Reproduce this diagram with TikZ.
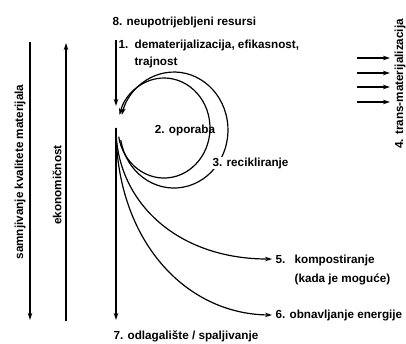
\documentclass[tikz,border=0pt]{standalone}
\usepackage{fontspec}
\setmainfont{Liberation Sans}
\usetikzlibrary{positioning, arrows.meta}

\begin{document}
\begin{tikzpicture}[x=1pt, y=1pt, line width=1.2pt,
    font=\fontsize{11.7}{14}\selectfont\bfseries,
    lbl/.style={inner sep=1pt, anchor=base west},
    side/.style={inner sep=1pt, rotate=90},
    arr/.style={-{Stealth[length=7pt, width=4.5pt]}}]
  \useasboundingbox (0,0) rectangle (406,343);

  % left axes
  \node[side] (qual) at (20,171) {samnjivanje kvalitete materijala};
  \node[side] (econ) at (57,158) {ekonomičnost};
  \coordinate (qualTop) at (30,301);
  \coordinate (qualBot) at (30,23);
  \coordinate (econBot) at (66,22);
  \coordinate (econTop) at (66,300);
  \draw[arr] (qualTop) -- (qualBot);
  \draw[arr] (econBot) -- (econTop);

  % labels
  \node[lbl] (res) at (111,317) {8. neupotrijebljeni resursi};
  \node[lbl] (n1) at (117,294.5) {1.};
  \node[lbl] (dem) at (133,294.5) {dematerijalizacija, efikasnost,};
  \node[lbl, below=17pt of dem.base west, anchor=base west] (traj) {trajnost};
  \node[anchor=base, inner sep=1pt] (opor) at (185,209) {2. oporaba};
  \node[side] (trans) at (400,259) {4. trans-materijalizacija};
  \node[lbl, inner sep=3pt] (n5) at (272,80) {5.};
  \node[lbl] (komp) at (293,80) {kompostiranje};
  \node[lbl, below=19pt of komp.base west, anchor=base west] (kada) {(kada je moguće)};
  \node[lbl, inner sep=3pt] (n6) at (272,25) {6. obnavljanje energije};
  \node[lbl] (n7) at (112,4) {7. odlagalište / spaljivanje};

  % main flow
  \coordinate (vTop) at (116,303);
  \coordinate (vStop) at (116,237);
  \coordinate (hub) at (116,215);
  \coordinate (vBot) at (116,23);
  \draw[arr] (vTop) -- (vStop);
  \draw[arr] (hub) -- (vBot);

  % loops
  \coordinate (inStart) at (118.7,206.3);
  \coordinate (outStart) at (120.8,202.9);
  \draw[arr] (inStart) arc[start angle=190, end angle=525, x radius=46, y radius=50];
  \draw[arr] (outStart) arc[start angle=190, end angle=525, x radius=54, y radius=58];
  \node[lbl, fill=white] (rec) at (211,177) {3. recikliranje};

  % branches
  \draw[arr] (hub) .. controls (116,143) and (175,84) .. (n5.west);
  \draw[arr] (hub) .. controls (116,103) and (185,29) .. (n6.west);

  % trans arrows
  \foreach \k/\yy in {1/285, 2/270, 3/256, 4/241} {
    \coordinate (tA\k) at (357,\yy);
    \coordinate (tB\k) at (390,\yy);
    \draw[arr] (tA\k) -- (tB\k);
  }
\end{tikzpicture}
\end{document}
